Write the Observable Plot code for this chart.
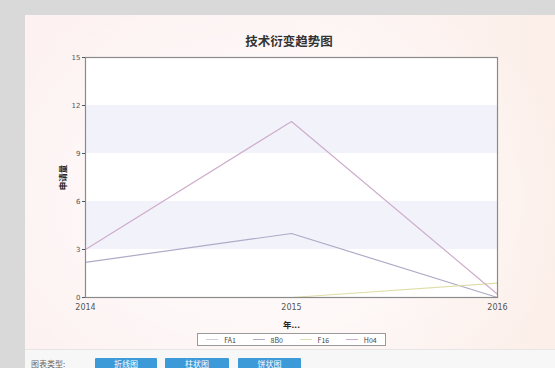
<!DOCTYPE html>
<html>
<head>
<meta charset="utf-8">
<script src="https://cdn.jsdelivr.net/npm/d3@7"></script>
<script src="https://cdn.jsdelivr.net/npm/@observablehq/plot@0.6"></script>
<style>
  html, body { margin: 0; padding: 0; }
  body {
    width: 555px; height: 368px; overflow: hidden; position: relative;
    background: #d9d9d9;
    font-family: "Noto Sans CJK SC", "DejaVu Sans", sans-serif;
  }
  #panel {
    position: absolute; left: 25px; top: 15px; width: 530px; height: 334px;
    background:
      radial-gradient(ellipse 60% 70% at 45% 55%, rgba(255,255,255,0.95), rgba(255,255,255,0) 100%),
      linear-gradient(to right, #fdf1f1 0%, #fdf3f2 60%, #fcefe9 100%);
  }
  #title {
    position: absolute; left: 25px; width: 528px; top: 31px;
    text-align: center; font-size: 12.5px; font-weight: bold; color: #333;
  }
  #chart { position: absolute; left: 25px; top: 47px; }
  #legend {
    position: absolute; left: 197px; top: 333px; width: 189px; height: 13px;
    border: 1px solid #9a9a9a; background: #fff;
    display: flex; align-items: center; justify-content: space-around;
    font-size: 7px; color: #444; box-sizing: border-box;
  }
  #legend .item { display: flex; align-items: center; gap: 6px; }
  #legend .sw { width: 12px; height: 1.5px; }
  #footer {
    position: absolute; left: 25px; top: 349px; width: 530px; height: 19px;
    background: #f7f7f7; border-top: 1px solid #e6e6e6;
  }
  #footer .lbl { position: absolute; left: 6px; top: 8px; font-size: 8px; color: #666; }
  #footer .btn {
    position: absolute; top: 8px; height: 14px; background: #3d9ad8; color: #fff;
    font-size: 8px; text-align: center; line-height: 12px; border-radius: 1px;
  }
</style>
</head>
<body>
<div id="panel"></div>
<div id="title"></div>
<div id="chart"></div>
<div id="legend"></div>
<div id="footer"></div>
<script>
// Chart text
const title = "技术衍变趋势图";
const xLabel = "年...";
const yLabel = "申请量";

// Years and yearly application counts per applicant
const years = [2014, 2015, 2016];
const seriesNames = ["FA1", "8B0", "F16", "H04"];
const seriesColors = ["#cfd0dc", "#b0aac6", "#e0dea8", "#cfadcc"];
const fa1 = [0, 0, 0];
const b80 = [2.2, 4, 0];
const f16 = [0, 0, 0.9];
const h04 = [3, 11, 0.2];
const seriesValues = [fa1, b80, f16, h04];

// Axis ticks and shaded value bands
const yTicks = [0, 3, 6, 9, 12, 15];
const bandRanges = [[3, 6], [9, 12]];

// Footer controls
const footerLabel = "图表类型:";
const buttons = ["折线图", "柱状图", "饼状图"];

const rows = seriesNames.flatMap((name, i) =>
  years.map((year, j) => ({ series: name, year, value: seriesValues[i][j] }))
);
const bands = bandRanges.map(([lo, hi]) => ({ lo, hi }));

document.getElementById("title").textContent = title;

const chart = Plot.plot({
  width: 520,
  height: 286,
  marginLeft: 60,
  marginRight: 48,
  marginTop: 10,
  marginBottom: 36,
  style: { background: "transparent", fontSize: "7px", color: "#555", fontFamily: "DejaVu Sans, sans-serif" },
  x: { domain: [2014, 2016] },
  y: { domain: [0, 15] },
  color: { domain: seriesNames, range: seriesColors },
  marks: [
    Plot.frame({ fill: "white", stroke: null }),
    Plot.rectY(bands, { y1: "lo", y2: "hi", fill: "#f2f2fb" }),
    Plot.line(rows, { x: "year", y: "value", z: "series", stroke: "series", strokeWidth: 1.2 }),
    Plot.frame({ stroke: "#8a8a8a", strokeWidth: 1.2 }),
    Plot.axisX({
      ticks: years, tickFormat: d => String(d), tickSize: 0, tickPadding: 7,
      label: xLabel, labelAnchor: "center", labelArrow: "none", labelOffset: 30,
      fontSize: 8
    }),
    Plot.axisY({
      ticks: yTicks, tickSize: 3, tickPadding: 2,
      label: yLabel, labelAnchor: "center", labelArrow: "none", labelOffset: 26
    })
  ]
});
chart.querySelectorAll("g[aria-label='x-axis label'] text, g[aria-label='y-axis label'] text")
  .forEach(t => { t.style.fontWeight = "bold"; t.style.fontSize = "8.5px"; t.style.fontFamily = "Noto Sans CJK SC, sans-serif"; t.style.fill = "#222"; });
document.getElementById("chart").appendChild(chart);

// Legend
const legend = document.getElementById("legend");
seriesNames.forEach((name, i) => {
  const item = document.createElement("div");
  item.className = "item";
  const sw = document.createElement("span");
  sw.className = "sw";
  sw.style.background = seriesColors[i];
  const txt = document.createElement("span");
  txt.textContent = name;
  item.append(sw, txt);
  legend.appendChild(item);
});

// Footer
const footer = document.getElementById("footer");
const lbl = document.createElement("div");
lbl.className = "lbl";
lbl.textContent = footerLabel;
footer.appendChild(lbl);
const btnLeft = [70, 140, 213];
const btnWidth = [62, 64, 63];
buttons.forEach((b, i) => {
  const el = document.createElement("div");
  el.className = "btn";
  el.style.left = btnLeft[i] + "px";
  el.style.width = btnWidth[i] + "px";
  el.textContent = b;
  footer.appendChild(el);
});
</script>
</body>
</html>
